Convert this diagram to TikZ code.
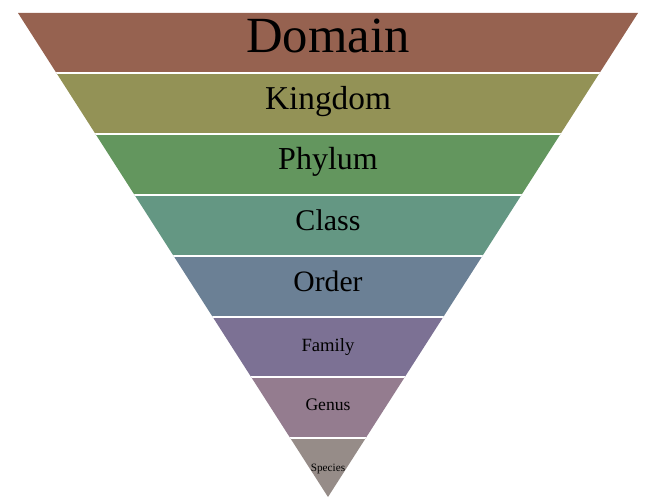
\documentclass[tikz,border=0pt]{standalone}
\usepackage{fontspec}
\setmainfont{Liberation Serif}
\usepackage{xcolor}
\usepackage{tikz}
\definecolor{cdomain}{RGB}{150,98,80}
\definecolor{ckingdom}{RGB}{147,146,86}
\definecolor{cphylum}{RGB}{99,150,94}
\definecolor{cclass}{RGB}{100,151,131}
\definecolor{corder}{RGB}{107,128,149}
\definecolor{cfamily}{RGB}{124,113,148}
\definecolor{cgenus}{RGB}{148,124,143}
\definecolor{cspecies}{RGB}{150,140,136}
\tikzstyle{rank} = [anchor = base, inner sep = 0pt, text = black]
\tikzstyle{gap} = [white, line width = 1.5pt]

\begin{document}
\begin{tikzpicture}[x = 0.75pt, y = -0.75pt]
        \useasboundingbox (0,0) rectangle (650,502);
        \begin{scope}
            \clip (18,13) -- (638,13) -- (328,497) -- cycle;
            \foreach \c [count = \i from 0] in {cdomain, ckingdom, cphylum, cclass, corder, cfamily, cgenus, cspecies}
                \fill[\c] (0,{12.1+60.9*\i}) rectangle (650,{12.1+60.9*(\i+1)});
            \foreach \i in {1,...,7}
                \draw[gap] (0,{12.1+60.9*\i}) -- (650,{12.1+60.9*\i});
        \end{scope}
        \node (domain) [rank, font = \fontsize{38}{40}\selectfont] at (328,53) {Domain};
        \node (kingdom) [rank, font = \fontsize{25}{27}\selectfont] at (328,110) {Kingdom};
        \node (phylum) [rank, font = \fontsize{24}{26}\selectfont] at (328,170) {Phylum};
        \node (class) [rank, font = \fontsize{22.5}{24}\selectfont] at (328,231) {Class};
        \node (order) [rank, font = \fontsize{22.2}{24}\selectfont] at (328,292) {Order};
        \node (family) [rank, font = \fontsize{14}{16}\selectfont] at (328,352) {Family};
        \node (genus) [rank, font = \fontsize{13.2}{15}\selectfont] at (328,411) {Genus};
        \node (species) [rank, font = \fontsize{8.4}{10}\selectfont] at (328,471) {Species};
    \end{tikzpicture}
\end{document}
